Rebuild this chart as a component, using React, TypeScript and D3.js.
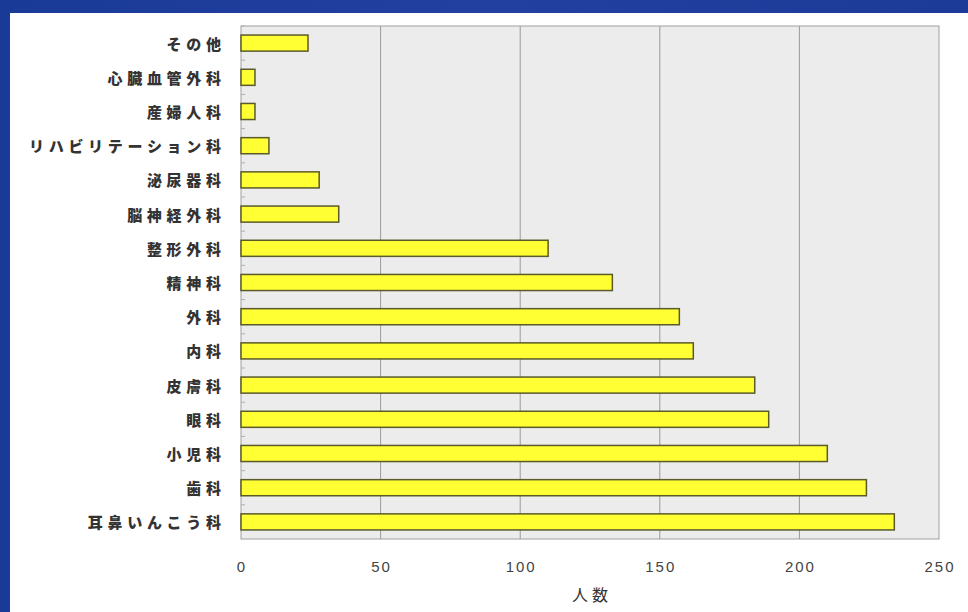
import React from "react";
import * as d3 from "d3";

// 診療科別の人数（上から表示順）
const departments = [
  "その他",
  "心臓血管外科",
  "産婦人科",
  "リハビリテーション科",
  "泌尿器科",
  "脳神経外科",
  "整形外科",
  "精神科",
  "外科",
  "内科",
  "皮膚科",
  "眼科",
  "小児科",
  "歯科",
  "耳鼻いんこう科",
];
const counts = [24, 5, 5, 10, 28, 35, 110, 133, 157, 162, 184, 189, 210, 224, 234];
const xTicks = [0, 50, 100, 150, 200, 250];
const xTitle = "人数";

const W = 968;
const H = 612;
const plot = { left: 241, right: 939, top: 26, bottom: 539 };
const labelSpacing = 4.7;

export default function App() {
  const x = d3.scaleLinear().domain([0, 250]).range([plot.left, plot.right]);
  const y = d3
    .scaleBand<string>()
    .domain(departments)
    .range([plot.top, plot.bottom])
    .paddingInner(0.53)
    .paddingOuter(0.265);
  const band = (plot.bottom - plot.top) / departments.length;

  return (
    <svg
      width={W}
      height={H}
      style={{ position: "fixed", left: 0, top: 0, display: "block" }}
    >
      <defs>
        <linearGradient id="frame" x1="0" y1="0" x2="1" y2="0">
          <stop offset="0" stopColor="#1a3a98" />
          <stop offset="0.5" stopColor="#22409f" />
          <stop offset="1" stopColor="#1c3b99" />
        </linearGradient>
      </defs>
      <rect x={0} y={0} width={W} height={H} fill="url(#frame)" />
      <rect x={10} y={13} width={W - 10} height={H - 13} fill="#ffffff" />

      {/* plot area */}
      <rect
        x={plot.left}
        y={plot.top}
        width={plot.right - plot.left}
        height={plot.bottom - plot.top}
        fill="#ececec"
        stroke="#a0a0a0"
        strokeWidth={1}
      />
      {xTicks.slice(1, -1).map((t) => (
        <line
          key={t}
          x1={x(t)}
          x2={x(t)}
          y1={plot.top}
          y2={plot.bottom}
          stroke="#9a9a9a"
          strokeWidth={1}
        />
      ))}
      {/* category tick marks on the value axis */}
      {departments.map((_, i) => (
        <line
          key={"tk" + i}
          x1={plot.left}
          x2={plot.left + 4}
          y1={plot.top + band * i}
          y2={plot.top + band * i}
          stroke="#b0b0b0"
        />
      ))}

      {departments.map((d, i) => (
        <rect
          key={d}
          x={x(0)}
          y={y(d)}
          width={x(counts[i]) - x(0)}
          height={y.bandwidth()}
          fill="#ffff33"
          stroke="#5a5a2a"
          strokeWidth={1.5}
        />
      ))}

      {departments.map((d) => (
        <text
          key={"l" + d}
          x={221 + labelSpacing}
          y={(y(d) ?? 0) + y.bandwidth() / 2}
          textAnchor="end"
          dominantBaseline="central"
          fontFamily="'Noto Sans CJK JP', sans-serif"
          fontWeight={900}
          fontSize={15}
          letterSpacing={labelSpacing}
          fill="#333333"
        >
          {d}
        </text>
      ))}

      {xTicks.map((t) => (
        <text
          key={"x" + t}
          x={x(t) + 1}
          y={566}
          textAnchor="middle"
          dominantBaseline="central"
          fontFamily="'Liberation Sans', Arial, sans-serif"
          fontSize={15}
          letterSpacing={2}
          fill="#444444"
        >
          {t}
        </text>
      ))}
      <text
        x={(plot.left + plot.right) / 2 + 2}
        y={594}
        textAnchor="middle"
        dominantBaseline="central"
        fontFamily="'Noto Sans CJK JP', sans-serif"
        fontSize={16}
        letterSpacing={4}
        fill="#333333"
      >
        {xTitle}
      </text>
    </svg>
  );
}
